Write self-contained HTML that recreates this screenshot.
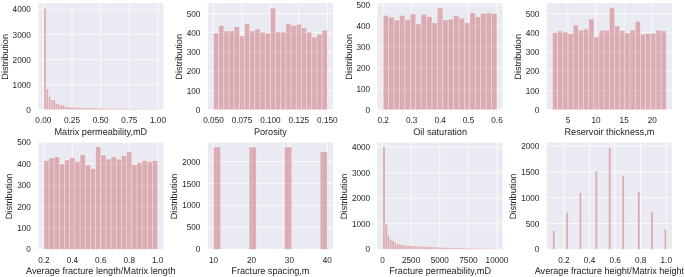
<!DOCTYPE html>
<html><head><meta charset="utf-8"><style>
html,body{margin:0;padding:0;background:#fff;width:685px;height:277px;overflow:hidden}
svg{will-change:transform;text-rendering:geometricPrecision;display:block;font-family:"Liberation Sans",sans-serif}
</style></head><body>
<svg width="685" height="277" viewBox="0 0 685 277">
<rect x="0" y="0" width="685" height="277" fill="#ffffff"/>
<g>
<rect x="38.20" y="3.10" width="125.20" height="106.60" fill="#EAEAF2"/>
<line x1="43.30" y1="3.10" x2="43.30" y2="109.70" stroke="#fff" stroke-width="0.75"/>
<line x1="71.97" y1="3.10" x2="71.97" y2="109.70" stroke="#fff" stroke-width="0.75"/>
<line x1="100.65" y1="3.10" x2="100.65" y2="109.70" stroke="#fff" stroke-width="0.75"/>
<line x1="129.32" y1="3.10" x2="129.32" y2="109.70" stroke="#fff" stroke-width="0.75"/>
<line x1="158.00" y1="3.10" x2="158.00" y2="109.70" stroke="#fff" stroke-width="0.75"/>
<line x1="38.20" y1="109.70" x2="163.40" y2="109.70" stroke="#fff" stroke-width="0.75"/>
<line x1="38.20" y1="84.62" x2="163.40" y2="84.62" stroke="#fff" stroke-width="0.75"/>
<line x1="38.20" y1="59.54" x2="163.40" y2="59.54" stroke="#fff" stroke-width="0.75"/>
<line x1="38.20" y1="34.45" x2="163.40" y2="34.45" stroke="#fff" stroke-width="0.75"/>
<line x1="38.20" y1="9.37" x2="163.40" y2="9.37" stroke="#fff" stroke-width="0.75"/>
<rect x="43.90" y="8.07" width="2.28" height="101.63" fill="#C44E52" fill-opacity="0.4" stroke="#fff" stroke-opacity="0.4" stroke-width="0.75"/>
<rect x="46.18" y="88.96" width="2.28" height="20.74" fill="#C44E52" fill-opacity="0.4" stroke="#fff" stroke-opacity="0.4" stroke-width="0.75"/>
<rect x="48.45" y="96.56" width="2.28" height="13.14" fill="#C44E52" fill-opacity="0.4" stroke="#fff" stroke-opacity="0.4" stroke-width="0.75"/>
<rect x="50.73" y="99.92" width="2.28" height="9.78" fill="#C44E52" fill-opacity="0.4" stroke="#fff" stroke-opacity="0.4" stroke-width="0.75"/>
<rect x="53.00" y="99.92" width="2.28" height="9.78" fill="#C44E52" fill-opacity="0.4" stroke="#fff" stroke-opacity="0.4" stroke-width="0.75"/>
<rect x="55.28" y="103.68" width="2.28" height="6.02" fill="#C44E52" fill-opacity="0.4" stroke="#fff" stroke-opacity="0.4" stroke-width="0.75"/>
<rect x="57.56" y="104.18" width="2.28" height="5.52" fill="#C44E52" fill-opacity="0.4" stroke="#fff" stroke-opacity="0.4" stroke-width="0.75"/>
<rect x="59.83" y="105.06" width="2.28" height="4.64" fill="#C44E52" fill-opacity="0.4" stroke="#fff" stroke-opacity="0.4" stroke-width="0.75"/>
<rect x="62.11" y="105.39" width="2.28" height="4.31" fill="#C44E52" fill-opacity="0.4" stroke="#fff" stroke-opacity="0.4" stroke-width="0.75"/>
<rect x="64.38" y="106.31" width="2.28" height="3.39" fill="#C44E52" fill-opacity="0.4" stroke="#fff" stroke-opacity="0.4" stroke-width="0.75"/>
<rect x="66.66" y="106.89" width="2.28" height="2.81" fill="#C44E52" fill-opacity="0.4" stroke="#fff" stroke-opacity="0.4" stroke-width="0.75"/>
<rect x="68.94" y="107.00" width="2.28" height="2.70" fill="#C44E52" fill-opacity="0.4" stroke="#fff" stroke-opacity="0.4" stroke-width="0.75"/>
<rect x="71.21" y="107.11" width="2.28" height="2.59" fill="#C44E52" fill-opacity="0.4" stroke="#fff" stroke-opacity="0.4" stroke-width="0.75"/>
<rect x="73.49" y="107.21" width="2.28" height="2.49" fill="#C44E52" fill-opacity="0.4" stroke="#fff" stroke-opacity="0.4" stroke-width="0.75"/>
<rect x="75.76" y="107.31" width="2.28" height="2.39" fill="#C44E52" fill-opacity="0.4" stroke="#fff" stroke-opacity="0.4" stroke-width="0.75"/>
<rect x="78.04" y="107.40" width="2.28" height="2.30" fill="#C44E52" fill-opacity="0.4" stroke="#fff" stroke-opacity="0.4" stroke-width="0.75"/>
<rect x="80.32" y="107.49" width="2.28" height="2.21" fill="#C44E52" fill-opacity="0.4" stroke="#fff" stroke-opacity="0.4" stroke-width="0.75"/>
<rect x="82.59" y="107.58" width="2.28" height="2.12" fill="#C44E52" fill-opacity="0.4" stroke="#fff" stroke-opacity="0.4" stroke-width="0.75"/>
<rect x="84.87" y="107.66" width="2.28" height="2.04" fill="#C44E52" fill-opacity="0.4" stroke="#fff" stroke-opacity="0.4" stroke-width="0.75"/>
<rect x="87.14" y="107.74" width="2.28" height="1.96" fill="#C44E52" fill-opacity="0.4" stroke="#fff" stroke-opacity="0.4" stroke-width="0.75"/>
<rect x="89.42" y="107.82" width="2.28" height="1.88" fill="#C44E52" fill-opacity="0.4" stroke="#fff" stroke-opacity="0.4" stroke-width="0.75"/>
<rect x="91.70" y="107.89" width="2.28" height="1.81" fill="#C44E52" fill-opacity="0.4" stroke="#fff" stroke-opacity="0.4" stroke-width="0.75"/>
<rect x="93.97" y="107.96" width="2.28" height="1.74" fill="#C44E52" fill-opacity="0.4" stroke="#fff" stroke-opacity="0.4" stroke-width="0.75"/>
<rect x="96.25" y="108.03" width="2.28" height="1.67" fill="#C44E52" fill-opacity="0.4" stroke="#fff" stroke-opacity="0.4" stroke-width="0.75"/>
<rect x="98.52" y="108.10" width="2.28" height="1.60" fill="#C44E52" fill-opacity="0.4" stroke="#fff" stroke-opacity="0.4" stroke-width="0.75"/>
<rect x="100.80" y="108.16" width="2.28" height="1.54" fill="#C44E52" fill-opacity="0.4" stroke="#fff" stroke-opacity="0.4" stroke-width="0.75"/>
<rect x="103.08" y="108.22" width="2.28" height="1.48" fill="#C44E52" fill-opacity="0.4" stroke="#fff" stroke-opacity="0.4" stroke-width="0.75"/>
<rect x="105.35" y="108.28" width="2.28" height="1.42" fill="#C44E52" fill-opacity="0.4" stroke="#fff" stroke-opacity="0.4" stroke-width="0.75"/>
<rect x="107.63" y="108.33" width="2.28" height="1.37" fill="#C44E52" fill-opacity="0.4" stroke="#fff" stroke-opacity="0.4" stroke-width="0.75"/>
<rect x="109.90" y="108.39" width="2.28" height="1.31" fill="#C44E52" fill-opacity="0.4" stroke="#fff" stroke-opacity="0.4" stroke-width="0.75"/>
<rect x="112.18" y="108.44" width="2.28" height="1.26" fill="#C44E52" fill-opacity="0.4" stroke="#fff" stroke-opacity="0.4" stroke-width="0.75"/>
<rect x="114.46" y="108.49" width="2.28" height="1.21" fill="#C44E52" fill-opacity="0.4" stroke="#fff" stroke-opacity="0.4" stroke-width="0.75"/>
<rect x="116.73" y="108.53" width="2.28" height="1.17" fill="#C44E52" fill-opacity="0.4" stroke="#fff" stroke-opacity="0.4" stroke-width="0.75"/>
<rect x="119.01" y="108.58" width="2.28" height="1.12" fill="#C44E52" fill-opacity="0.4" stroke="#fff" stroke-opacity="0.4" stroke-width="0.75"/>
<rect x="121.28" y="108.62" width="2.28" height="1.08" fill="#C44E52" fill-opacity="0.4" stroke="#fff" stroke-opacity="0.4" stroke-width="0.75"/>
<rect x="123.56" y="108.67" width="2.28" height="1.03" fill="#C44E52" fill-opacity="0.4" stroke="#fff" stroke-opacity="0.4" stroke-width="0.75"/>
<rect x="125.84" y="108.71" width="2.28" height="0.99" fill="#C44E52" fill-opacity="0.4" stroke="#fff" stroke-opacity="0.4" stroke-width="0.75"/>
<rect x="128.11" y="108.75" width="2.28" height="0.95" fill="#C44E52" fill-opacity="0.4" stroke="#fff" stroke-opacity="0.4" stroke-width="0.75"/>
<rect x="130.39" y="108.78" width="2.28" height="0.92" fill="#C44E52" fill-opacity="0.4" stroke="#fff" stroke-opacity="0.4" stroke-width="0.75"/>
<rect x="132.66" y="108.82" width="2.28" height="0.88" fill="#C44E52" fill-opacity="0.4" stroke="#fff" stroke-opacity="0.4" stroke-width="0.75"/>
<rect x="134.94" y="108.85" width="2.28" height="0.85" fill="#C44E52" fill-opacity="0.4" stroke="#fff" stroke-opacity="0.4" stroke-width="0.75"/>
<rect x="137.22" y="108.89" width="2.28" height="0.81" fill="#C44E52" fill-opacity="0.4" stroke="#fff" stroke-opacity="0.4" stroke-width="0.75"/>
<rect x="139.49" y="108.92" width="2.28" height="0.78" fill="#C44E52" fill-opacity="0.4" stroke="#fff" stroke-opacity="0.4" stroke-width="0.75"/>
<rect x="141.77" y="108.95" width="2.28" height="0.75" fill="#C44E52" fill-opacity="0.4" stroke="#fff" stroke-opacity="0.4" stroke-width="0.75"/>
<rect x="144.04" y="108.98" width="2.28" height="0.72" fill="#C44E52" fill-opacity="0.4" stroke="#fff" stroke-opacity="0.4" stroke-width="0.75"/>
<rect x="146.32" y="109.01" width="2.28" height="0.69" fill="#C44E52" fill-opacity="0.4" stroke="#fff" stroke-opacity="0.4" stroke-width="0.75"/>
<rect x="148.60" y="109.03" width="2.28" height="0.67" fill="#C44E52" fill-opacity="0.4" stroke="#fff" stroke-opacity="0.4" stroke-width="0.75"/>
<rect x="150.87" y="109.06" width="2.28" height="0.64" fill="#C44E52" fill-opacity="0.4" stroke="#fff" stroke-opacity="0.4" stroke-width="0.75"/>
<rect x="153.15" y="109.09" width="2.28" height="0.61" fill="#C44E52" fill-opacity="0.4" stroke="#fff" stroke-opacity="0.4" stroke-width="0.75"/>
<rect x="155.42" y="109.11" width="2.28" height="0.59" fill="#C44E52" fill-opacity="0.4" stroke="#fff" stroke-opacity="0.4" stroke-width="0.75"/>
<text transform="translate(43.30,122.90) scale(1,1.06)" text-anchor="middle" font-size="8.2" fill="#262626">0.00</text>
<text transform="translate(71.97,122.90) scale(1,1.06)" text-anchor="middle" font-size="8.2" fill="#262626">0.25</text>
<text transform="translate(100.65,122.90) scale(1,1.06)" text-anchor="middle" font-size="8.2" fill="#262626">0.50</text>
<text transform="translate(129.32,122.90) scale(1,1.06)" text-anchor="middle" font-size="8.2" fill="#262626">0.75</text>
<text transform="translate(158.00,122.90) scale(1,1.06)" text-anchor="middle" font-size="8.2" fill="#262626">1.00</text>
<text transform="translate(30.80,112.80) scale(1,1.06)" text-anchor="end" font-size="8.2" fill="#262626">0</text>
<text transform="translate(30.80,87.72) scale(1,1.06)" text-anchor="end" font-size="8.2" fill="#262626">1000</text>
<text transform="translate(30.80,62.64) scale(1,1.06)" text-anchor="end" font-size="8.2" fill="#262626">2000</text>
<text transform="translate(30.80,37.55) scale(1,1.06)" text-anchor="end" font-size="8.2" fill="#262626">3000</text>
<text transform="translate(30.80,12.47) scale(1,1.06)" text-anchor="end" font-size="8.2" fill="#262626">4000</text>
<text transform="translate(100.80,134.70) scale(1,1.06)" text-anchor="middle" font-size="9.15" fill="#262626">Matrix permeability,mD</text>
<text transform="translate(7.66,56.80) rotate(-90)" x="0" y="0" text-anchor="middle" font-size="9.15" fill="#262626">Distribution</text>
</g>
<g>
<rect x="207.80" y="3.10" width="125.20" height="106.60" fill="#EAEAF2"/>
<line x1="213.50" y1="3.10" x2="213.50" y2="109.70" stroke="#fff" stroke-width="0.75"/>
<line x1="241.95" y1="3.10" x2="241.95" y2="109.70" stroke="#fff" stroke-width="0.75"/>
<line x1="270.40" y1="3.10" x2="270.40" y2="109.70" stroke="#fff" stroke-width="0.75"/>
<line x1="298.85" y1="3.10" x2="298.85" y2="109.70" stroke="#fff" stroke-width="0.75"/>
<line x1="327.30" y1="3.10" x2="327.30" y2="109.70" stroke="#fff" stroke-width="0.75"/>
<line x1="207.80" y1="109.70" x2="333.00" y2="109.70" stroke="#fff" stroke-width="0.75"/>
<line x1="207.80" y1="90.46" x2="333.00" y2="90.46" stroke="#fff" stroke-width="0.75"/>
<line x1="207.80" y1="71.22" x2="333.00" y2="71.22" stroke="#fff" stroke-width="0.75"/>
<line x1="207.80" y1="51.97" x2="333.00" y2="51.97" stroke="#fff" stroke-width="0.75"/>
<line x1="207.80" y1="32.73" x2="333.00" y2="32.73" stroke="#fff" stroke-width="0.75"/>
<line x1="207.80" y1="13.49" x2="333.00" y2="13.49" stroke="#fff" stroke-width="0.75"/>
<rect x="213.50" y="33.12" width="5.17" height="76.58" fill="#C44E52" fill-opacity="0.4" stroke="#fff" stroke-opacity="0.4" stroke-width="0.75"/>
<rect x="218.67" y="25.61" width="5.17" height="84.09" fill="#C44E52" fill-opacity="0.4" stroke="#fff" stroke-opacity="0.4" stroke-width="0.75"/>
<rect x="223.85" y="31.00" width="5.17" height="78.70" fill="#C44E52" fill-opacity="0.4" stroke="#fff" stroke-opacity="0.4" stroke-width="0.75"/>
<rect x="229.02" y="31.00" width="5.17" height="78.70" fill="#C44E52" fill-opacity="0.4" stroke="#fff" stroke-opacity="0.4" stroke-width="0.75"/>
<rect x="234.19" y="26.77" width="5.17" height="82.93" fill="#C44E52" fill-opacity="0.4" stroke="#fff" stroke-opacity="0.4" stroke-width="0.75"/>
<rect x="239.36" y="36.00" width="5.17" height="73.70" fill="#C44E52" fill-opacity="0.4" stroke="#fff" stroke-opacity="0.4" stroke-width="0.75"/>
<rect x="244.54" y="23.88" width="5.17" height="85.82" fill="#C44E52" fill-opacity="0.4" stroke="#fff" stroke-opacity="0.4" stroke-width="0.75"/>
<rect x="249.71" y="31.00" width="5.17" height="78.70" fill="#C44E52" fill-opacity="0.4" stroke="#fff" stroke-opacity="0.4" stroke-width="0.75"/>
<rect x="254.88" y="29.08" width="5.17" height="80.62" fill="#C44E52" fill-opacity="0.4" stroke="#fff" stroke-opacity="0.4" stroke-width="0.75"/>
<rect x="260.05" y="32.16" width="5.17" height="77.54" fill="#C44E52" fill-opacity="0.4" stroke="#fff" stroke-opacity="0.4" stroke-width="0.75"/>
<rect x="265.23" y="33.31" width="5.17" height="76.39" fill="#C44E52" fill-opacity="0.4" stroke="#fff" stroke-opacity="0.4" stroke-width="0.75"/>
<rect x="270.40" y="8.10" width="5.17" height="101.60" fill="#C44E52" fill-opacity="0.4" stroke="#fff" stroke-opacity="0.4" stroke-width="0.75"/>
<rect x="275.57" y="31.96" width="5.17" height="77.74" fill="#C44E52" fill-opacity="0.4" stroke="#fff" stroke-opacity="0.4" stroke-width="0.75"/>
<rect x="280.75" y="32.16" width="5.17" height="77.54" fill="#C44E52" fill-opacity="0.4" stroke="#fff" stroke-opacity="0.4" stroke-width="0.75"/>
<rect x="285.92" y="23.88" width="5.17" height="85.82" fill="#C44E52" fill-opacity="0.4" stroke="#fff" stroke-opacity="0.4" stroke-width="0.75"/>
<rect x="291.09" y="25.42" width="5.17" height="84.28" fill="#C44E52" fill-opacity="0.4" stroke="#fff" stroke-opacity="0.4" stroke-width="0.75"/>
<rect x="296.26" y="24.27" width="5.17" height="85.43" fill="#C44E52" fill-opacity="0.4" stroke="#fff" stroke-opacity="0.4" stroke-width="0.75"/>
<rect x="301.44" y="27.92" width="5.17" height="81.78" fill="#C44E52" fill-opacity="0.4" stroke="#fff" stroke-opacity="0.4" stroke-width="0.75"/>
<rect x="306.61" y="32.16" width="5.17" height="77.54" fill="#C44E52" fill-opacity="0.4" stroke="#fff" stroke-opacity="0.4" stroke-width="0.75"/>
<rect x="311.78" y="37.16" width="5.17" height="72.54" fill="#C44E52" fill-opacity="0.4" stroke="#fff" stroke-opacity="0.4" stroke-width="0.75"/>
<rect x="316.95" y="34.27" width="5.17" height="75.43" fill="#C44E52" fill-opacity="0.4" stroke="#fff" stroke-opacity="0.4" stroke-width="0.75"/>
<rect x="322.13" y="30.23" width="5.17" height="79.47" fill="#C44E52" fill-opacity="0.4" stroke="#fff" stroke-opacity="0.4" stroke-width="0.75"/>
<text transform="translate(213.50,122.90) scale(1,1.06)" text-anchor="middle" font-size="8.2" fill="#262626">0.050</text>
<text transform="translate(241.95,122.90) scale(1,1.06)" text-anchor="middle" font-size="8.2" fill="#262626">0.075</text>
<text transform="translate(270.40,122.90) scale(1,1.06)" text-anchor="middle" font-size="8.2" fill="#262626">0.100</text>
<text transform="translate(298.85,122.90) scale(1,1.06)" text-anchor="middle" font-size="8.2" fill="#262626">0.125</text>
<text transform="translate(327.30,122.90) scale(1,1.06)" text-anchor="middle" font-size="8.2" fill="#262626">0.150</text>
<text transform="translate(200.40,112.80) scale(1,1.06)" text-anchor="end" font-size="8.2" fill="#262626">0</text>
<text transform="translate(200.40,93.56) scale(1,1.06)" text-anchor="end" font-size="8.2" fill="#262626">100</text>
<text transform="translate(200.40,74.32) scale(1,1.06)" text-anchor="end" font-size="8.2" fill="#262626">200</text>
<text transform="translate(200.40,55.07) scale(1,1.06)" text-anchor="end" font-size="8.2" fill="#262626">300</text>
<text transform="translate(200.40,35.83) scale(1,1.06)" text-anchor="end" font-size="8.2" fill="#262626">400</text>
<text transform="translate(200.40,16.59) scale(1,1.06)" text-anchor="end" font-size="8.2" fill="#262626">500</text>
<text transform="translate(270.40,134.70) scale(1,1.06)" text-anchor="middle" font-size="9.15" fill="#262626">Porosity</text>
<text transform="translate(181.82,56.80) rotate(-90)" x="0" y="0" text-anchor="middle" font-size="9.15" fill="#262626">Distribution</text>
</g>
<g>
<rect x="377.50" y="3.10" width="125.20" height="106.60" fill="#EAEAF2"/>
<line x1="383.20" y1="3.10" x2="383.20" y2="109.70" stroke="#fff" stroke-width="0.75"/>
<line x1="411.65" y1="3.10" x2="411.65" y2="109.70" stroke="#fff" stroke-width="0.75"/>
<line x1="440.10" y1="3.10" x2="440.10" y2="109.70" stroke="#fff" stroke-width="0.75"/>
<line x1="468.55" y1="3.10" x2="468.55" y2="109.70" stroke="#fff" stroke-width="0.75"/>
<line x1="497.00" y1="3.10" x2="497.00" y2="109.70" stroke="#fff" stroke-width="0.75"/>
<line x1="377.50" y1="109.70" x2="502.70" y2="109.70" stroke="#fff" stroke-width="0.75"/>
<line x1="377.50" y1="88.80" x2="502.70" y2="88.80" stroke="#fff" stroke-width="0.75"/>
<line x1="377.50" y1="67.90" x2="502.70" y2="67.90" stroke="#fff" stroke-width="0.75"/>
<line x1="377.50" y1="46.99" x2="502.70" y2="46.99" stroke="#fff" stroke-width="0.75"/>
<line x1="377.50" y1="26.09" x2="502.70" y2="26.09" stroke="#fff" stroke-width="0.75"/>
<line x1="377.50" y1="5.19" x2="502.70" y2="5.19" stroke="#fff" stroke-width="0.75"/>
<rect x="383.20" y="15.43" width="5.42" height="94.27" fill="#C44E52" fill-opacity="0.4" stroke="#fff" stroke-opacity="0.4" stroke-width="0.75"/>
<rect x="388.62" y="17.10" width="5.42" height="92.60" fill="#C44E52" fill-opacity="0.4" stroke="#fff" stroke-opacity="0.4" stroke-width="0.75"/>
<rect x="394.04" y="20.03" width="5.42" height="89.67" fill="#C44E52" fill-opacity="0.4" stroke="#fff" stroke-opacity="0.4" stroke-width="0.75"/>
<rect x="399.46" y="15.43" width="5.42" height="94.27" fill="#C44E52" fill-opacity="0.4" stroke="#fff" stroke-opacity="0.4" stroke-width="0.75"/>
<rect x="404.88" y="19.61" width="5.42" height="90.09" fill="#C44E52" fill-opacity="0.4" stroke="#fff" stroke-opacity="0.4" stroke-width="0.75"/>
<rect x="410.30" y="13.97" width="5.42" height="95.73" fill="#C44E52" fill-opacity="0.4" stroke="#fff" stroke-opacity="0.4" stroke-width="0.75"/>
<rect x="415.71" y="23.79" width="5.42" height="85.91" fill="#C44E52" fill-opacity="0.4" stroke="#fff" stroke-opacity="0.4" stroke-width="0.75"/>
<rect x="421.13" y="14.60" width="5.42" height="95.10" fill="#C44E52" fill-opacity="0.4" stroke="#fff" stroke-opacity="0.4" stroke-width="0.75"/>
<rect x="426.55" y="16.69" width="5.42" height="93.01" fill="#C44E52" fill-opacity="0.4" stroke="#fff" stroke-opacity="0.4" stroke-width="0.75"/>
<rect x="431.97" y="22.96" width="5.42" height="86.74" fill="#C44E52" fill-opacity="0.4" stroke="#fff" stroke-opacity="0.4" stroke-width="0.75"/>
<rect x="437.39" y="7.91" width="5.42" height="101.79" fill="#C44E52" fill-opacity="0.4" stroke="#fff" stroke-opacity="0.4" stroke-width="0.75"/>
<rect x="442.81" y="20.03" width="5.42" height="89.67" fill="#C44E52" fill-opacity="0.4" stroke="#fff" stroke-opacity="0.4" stroke-width="0.75"/>
<rect x="448.23" y="19.19" width="5.42" height="90.51" fill="#C44E52" fill-opacity="0.4" stroke="#fff" stroke-opacity="0.4" stroke-width="0.75"/>
<rect x="453.65" y="15.43" width="5.42" height="94.27" fill="#C44E52" fill-opacity="0.4" stroke="#fff" stroke-opacity="0.4" stroke-width="0.75"/>
<rect x="459.07" y="18.15" width="5.42" height="91.55" fill="#C44E52" fill-opacity="0.4" stroke="#fff" stroke-opacity="0.4" stroke-width="0.75"/>
<rect x="464.49" y="22.75" width="5.42" height="86.95" fill="#C44E52" fill-opacity="0.4" stroke="#fff" stroke-opacity="0.4" stroke-width="0.75"/>
<rect x="469.90" y="12.92" width="5.42" height="96.78" fill="#C44E52" fill-opacity="0.4" stroke="#fff" stroke-opacity="0.4" stroke-width="0.75"/>
<rect x="475.32" y="16.69" width="5.42" height="93.01" fill="#C44E52" fill-opacity="0.4" stroke="#fff" stroke-opacity="0.4" stroke-width="0.75"/>
<rect x="480.74" y="13.55" width="5.42" height="96.15" fill="#C44E52" fill-opacity="0.4" stroke="#fff" stroke-opacity="0.4" stroke-width="0.75"/>
<rect x="486.16" y="12.92" width="5.42" height="96.78" fill="#C44E52" fill-opacity="0.4" stroke="#fff" stroke-opacity="0.4" stroke-width="0.75"/>
<rect x="491.58" y="13.55" width="5.42" height="96.15" fill="#C44E52" fill-opacity="0.4" stroke="#fff" stroke-opacity="0.4" stroke-width="0.75"/>
<text transform="translate(383.20,122.90) scale(1,1.06)" text-anchor="middle" font-size="8.2" fill="#262626">0.2</text>
<text transform="translate(411.65,122.90) scale(1,1.06)" text-anchor="middle" font-size="8.2" fill="#262626">0.3</text>
<text transform="translate(440.10,122.90) scale(1,1.06)" text-anchor="middle" font-size="8.2" fill="#262626">0.4</text>
<text transform="translate(468.55,122.90) scale(1,1.06)" text-anchor="middle" font-size="8.2" fill="#262626">0.5</text>
<text transform="translate(497.00,122.90) scale(1,1.06)" text-anchor="middle" font-size="8.2" fill="#262626">0.6</text>
<text transform="translate(370.10,112.80) scale(1,1.06)" text-anchor="end" font-size="8.2" fill="#262626">0</text>
<text transform="translate(370.10,91.90) scale(1,1.06)" text-anchor="end" font-size="8.2" fill="#262626">100</text>
<text transform="translate(370.10,71.00) scale(1,1.06)" text-anchor="end" font-size="8.2" fill="#262626">200</text>
<text transform="translate(370.10,50.09) scale(1,1.06)" text-anchor="end" font-size="8.2" fill="#262626">300</text>
<text transform="translate(370.10,29.19) scale(1,1.06)" text-anchor="end" font-size="8.2" fill="#262626">400</text>
<text transform="translate(370.10,8.29) scale(1,1.06)" text-anchor="end" font-size="8.2" fill="#262626">500</text>
<text transform="translate(440.10,134.70) scale(1,1.06)" text-anchor="middle" font-size="9.15" fill="#262626">Oil saturation</text>
<text transform="translate(351.52,56.80) rotate(-90)" x="0" y="0" text-anchor="middle" font-size="9.15" fill="#262626">Distribution</text>
</g>
<g>
<rect x="546.80" y="3.10" width="125.20" height="106.60" fill="#EAEAF2"/>
<line x1="567.91" y1="3.10" x2="567.91" y2="109.70" stroke="#fff" stroke-width="0.75"/>
<line x1="596.04" y1="3.10" x2="596.04" y2="109.70" stroke="#fff" stroke-width="0.75"/>
<line x1="624.17" y1="3.10" x2="624.17" y2="109.70" stroke="#fff" stroke-width="0.75"/>
<line x1="652.29" y1="3.10" x2="652.29" y2="109.70" stroke="#fff" stroke-width="0.75"/>
<line x1="546.80" y1="109.70" x2="672.00" y2="109.70" stroke="#fff" stroke-width="0.75"/>
<line x1="546.80" y1="90.46" x2="672.00" y2="90.46" stroke="#fff" stroke-width="0.75"/>
<line x1="546.80" y1="71.22" x2="672.00" y2="71.22" stroke="#fff" stroke-width="0.75"/>
<line x1="546.80" y1="51.97" x2="672.00" y2="51.97" stroke="#fff" stroke-width="0.75"/>
<line x1="546.80" y1="32.73" x2="672.00" y2="32.73" stroke="#fff" stroke-width="0.75"/>
<line x1="546.80" y1="13.49" x2="672.00" y2="13.49" stroke="#fff" stroke-width="0.75"/>
<rect x="552.50" y="32.73" width="5.17" height="76.97" fill="#C44E52" fill-opacity="0.4" stroke="#fff" stroke-opacity="0.4" stroke-width="0.75"/>
<rect x="557.67" y="31.00" width="5.17" height="78.70" fill="#C44E52" fill-opacity="0.4" stroke="#fff" stroke-opacity="0.4" stroke-width="0.75"/>
<rect x="562.85" y="32.16" width="5.17" height="77.54" fill="#C44E52" fill-opacity="0.4" stroke="#fff" stroke-opacity="0.4" stroke-width="0.75"/>
<rect x="568.02" y="33.89" width="5.17" height="75.81" fill="#C44E52" fill-opacity="0.4" stroke="#fff" stroke-opacity="0.4" stroke-width="0.75"/>
<rect x="573.19" y="25.04" width="5.17" height="84.66" fill="#C44E52" fill-opacity="0.4" stroke="#fff" stroke-opacity="0.4" stroke-width="0.75"/>
<rect x="578.36" y="30.23" width="5.17" height="79.47" fill="#C44E52" fill-opacity="0.4" stroke="#fff" stroke-opacity="0.4" stroke-width="0.75"/>
<rect x="583.54" y="29.27" width="5.17" height="80.43" fill="#C44E52" fill-opacity="0.4" stroke="#fff" stroke-opacity="0.4" stroke-width="0.75"/>
<rect x="588.71" y="19.07" width="5.17" height="90.63" fill="#C44E52" fill-opacity="0.4" stroke="#fff" stroke-opacity="0.4" stroke-width="0.75"/>
<rect x="593.88" y="36.97" width="5.17" height="72.73" fill="#C44E52" fill-opacity="0.4" stroke="#fff" stroke-opacity="0.4" stroke-width="0.75"/>
<rect x="599.05" y="30.62" width="5.17" height="79.08" fill="#C44E52" fill-opacity="0.4" stroke="#fff" stroke-opacity="0.4" stroke-width="0.75"/>
<rect x="604.23" y="30.23" width="5.17" height="79.47" fill="#C44E52" fill-opacity="0.4" stroke="#fff" stroke-opacity="0.4" stroke-width="0.75"/>
<rect x="609.40" y="7.72" width="5.17" height="101.98" fill="#C44E52" fill-opacity="0.4" stroke="#fff" stroke-opacity="0.4" stroke-width="0.75"/>
<rect x="614.57" y="26.00" width="5.17" height="83.70" fill="#C44E52" fill-opacity="0.4" stroke="#fff" stroke-opacity="0.4" stroke-width="0.75"/>
<rect x="619.75" y="30.62" width="5.17" height="79.08" fill="#C44E52" fill-opacity="0.4" stroke="#fff" stroke-opacity="0.4" stroke-width="0.75"/>
<rect x="624.92" y="32.92" width="5.17" height="76.78" fill="#C44E52" fill-opacity="0.4" stroke="#fff" stroke-opacity="0.4" stroke-width="0.75"/>
<rect x="630.09" y="30.04" width="5.17" height="79.66" fill="#C44E52" fill-opacity="0.4" stroke="#fff" stroke-opacity="0.4" stroke-width="0.75"/>
<rect x="635.26" y="21.38" width="5.17" height="88.32" fill="#C44E52" fill-opacity="0.4" stroke="#fff" stroke-opacity="0.4" stroke-width="0.75"/>
<rect x="640.44" y="34.27" width="5.17" height="75.43" fill="#C44E52" fill-opacity="0.4" stroke="#fff" stroke-opacity="0.4" stroke-width="0.75"/>
<rect x="645.61" y="33.69" width="5.17" height="76.01" fill="#C44E52" fill-opacity="0.4" stroke="#fff" stroke-opacity="0.4" stroke-width="0.75"/>
<rect x="650.78" y="33.12" width="5.17" height="76.58" fill="#C44E52" fill-opacity="0.4" stroke="#fff" stroke-opacity="0.4" stroke-width="0.75"/>
<rect x="655.95" y="30.23" width="5.17" height="79.47" fill="#C44E52" fill-opacity="0.4" stroke="#fff" stroke-opacity="0.4" stroke-width="0.75"/>
<rect x="661.13" y="31.00" width="5.17" height="78.70" fill="#C44E52" fill-opacity="0.4" stroke="#fff" stroke-opacity="0.4" stroke-width="0.75"/>
<text transform="translate(567.91,122.90) scale(1,1.06)" text-anchor="middle" font-size="8.2" fill="#262626">5</text>
<text transform="translate(596.04,122.90) scale(1,1.06)" text-anchor="middle" font-size="8.2" fill="#262626">10</text>
<text transform="translate(624.17,122.90) scale(1,1.06)" text-anchor="middle" font-size="8.2" fill="#262626">15</text>
<text transform="translate(652.29,122.90) scale(1,1.06)" text-anchor="middle" font-size="8.2" fill="#262626">20</text>
<text transform="translate(539.40,112.80) scale(1,1.06)" text-anchor="end" font-size="8.2" fill="#262626">0</text>
<text transform="translate(539.40,93.56) scale(1,1.06)" text-anchor="end" font-size="8.2" fill="#262626">100</text>
<text transform="translate(539.40,74.32) scale(1,1.06)" text-anchor="end" font-size="8.2" fill="#262626">200</text>
<text transform="translate(539.40,55.07) scale(1,1.06)" text-anchor="end" font-size="8.2" fill="#262626">300</text>
<text transform="translate(539.40,35.83) scale(1,1.06)" text-anchor="end" font-size="8.2" fill="#262626">400</text>
<text transform="translate(539.40,16.59) scale(1,1.06)" text-anchor="end" font-size="8.2" fill="#262626">500</text>
<text transform="translate(609.40,134.70) scale(1,1.06)" text-anchor="middle" font-size="9.15" fill="#262626">Reservoir thickness,m</text>
<text transform="translate(520.82,56.80) rotate(-90)" x="0" y="0" text-anchor="middle" font-size="9.15" fill="#262626">Distribution</text>
</g>
<g>
<rect x="38.20" y="142.70" width="125.20" height="106.60" fill="#EAEAF2"/>
<line x1="43.90" y1="142.70" x2="43.90" y2="249.30" stroke="#fff" stroke-width="0.75"/>
<line x1="72.35" y1="142.70" x2="72.35" y2="249.30" stroke="#fff" stroke-width="0.75"/>
<line x1="100.80" y1="142.70" x2="100.80" y2="249.30" stroke="#fff" stroke-width="0.75"/>
<line x1="129.25" y1="142.70" x2="129.25" y2="249.30" stroke="#fff" stroke-width="0.75"/>
<line x1="157.70" y1="142.70" x2="157.70" y2="249.30" stroke="#fff" stroke-width="0.75"/>
<line x1="38.20" y1="249.30" x2="163.40" y2="249.30" stroke="#fff" stroke-width="0.75"/>
<line x1="38.20" y1="227.92" x2="163.40" y2="227.92" stroke="#fff" stroke-width="0.75"/>
<line x1="38.20" y1="206.53" x2="163.40" y2="206.53" stroke="#fff" stroke-width="0.75"/>
<line x1="38.20" y1="185.15" x2="163.40" y2="185.15" stroke="#fff" stroke-width="0.75"/>
<line x1="38.20" y1="163.76" x2="163.40" y2="163.76" stroke="#fff" stroke-width="0.75"/>
<rect x="43.90" y="160.56" width="5.17" height="88.74" fill="#C44E52" fill-opacity="0.4" stroke="#fff" stroke-opacity="0.4" stroke-width="0.75"/>
<rect x="49.07" y="157.99" width="5.17" height="91.31" fill="#C44E52" fill-opacity="0.4" stroke="#fff" stroke-opacity="0.4" stroke-width="0.75"/>
<rect x="54.25" y="156.92" width="5.17" height="92.38" fill="#C44E52" fill-opacity="0.4" stroke="#fff" stroke-opacity="0.4" stroke-width="0.75"/>
<rect x="59.42" y="163.98" width="5.17" height="85.32" fill="#C44E52" fill-opacity="0.4" stroke="#fff" stroke-opacity="0.4" stroke-width="0.75"/>
<rect x="64.59" y="160.13" width="5.17" height="89.17" fill="#C44E52" fill-opacity="0.4" stroke="#fff" stroke-opacity="0.4" stroke-width="0.75"/>
<rect x="69.76" y="157.78" width="5.17" height="91.52" fill="#C44E52" fill-opacity="0.4" stroke="#fff" stroke-opacity="0.4" stroke-width="0.75"/>
<rect x="74.94" y="161.84" width="5.17" height="87.46" fill="#C44E52" fill-opacity="0.4" stroke="#fff" stroke-opacity="0.4" stroke-width="0.75"/>
<rect x="80.11" y="154.78" width="5.17" height="94.52" fill="#C44E52" fill-opacity="0.4" stroke="#fff" stroke-opacity="0.4" stroke-width="0.75"/>
<rect x="85.28" y="164.83" width="5.17" height="84.47" fill="#C44E52" fill-opacity="0.4" stroke="#fff" stroke-opacity="0.4" stroke-width="0.75"/>
<rect x="90.45" y="168.68" width="5.17" height="80.62" fill="#C44E52" fill-opacity="0.4" stroke="#fff" stroke-opacity="0.4" stroke-width="0.75"/>
<rect x="95.63" y="146.87" width="5.17" height="102.43" fill="#C44E52" fill-opacity="0.4" stroke="#fff" stroke-opacity="0.4" stroke-width="0.75"/>
<rect x="100.80" y="155.00" width="5.17" height="94.30" fill="#C44E52" fill-opacity="0.4" stroke="#fff" stroke-opacity="0.4" stroke-width="0.75"/>
<rect x="105.97" y="159.06" width="5.17" height="90.24" fill="#C44E52" fill-opacity="0.4" stroke="#fff" stroke-opacity="0.4" stroke-width="0.75"/>
<rect x="111.15" y="156.92" width="5.17" height="92.38" fill="#C44E52" fill-opacity="0.4" stroke="#fff" stroke-opacity="0.4" stroke-width="0.75"/>
<rect x="116.32" y="159.27" width="5.17" height="90.03" fill="#C44E52" fill-opacity="0.4" stroke="#fff" stroke-opacity="0.4" stroke-width="0.75"/>
<rect x="121.49" y="155.85" width="5.17" height="93.45" fill="#C44E52" fill-opacity="0.4" stroke="#fff" stroke-opacity="0.4" stroke-width="0.75"/>
<rect x="126.66" y="151.57" width="5.17" height="97.73" fill="#C44E52" fill-opacity="0.4" stroke="#fff" stroke-opacity="0.4" stroke-width="0.75"/>
<rect x="131.84" y="164.83" width="5.17" height="84.47" fill="#C44E52" fill-opacity="0.4" stroke="#fff" stroke-opacity="0.4" stroke-width="0.75"/>
<rect x="137.01" y="162.69" width="5.17" height="86.61" fill="#C44E52" fill-opacity="0.4" stroke="#fff" stroke-opacity="0.4" stroke-width="0.75"/>
<rect x="142.18" y="160.77" width="5.17" height="88.53" fill="#C44E52" fill-opacity="0.4" stroke="#fff" stroke-opacity="0.4" stroke-width="0.75"/>
<rect x="147.35" y="161.84" width="5.17" height="87.46" fill="#C44E52" fill-opacity="0.4" stroke="#fff" stroke-opacity="0.4" stroke-width="0.75"/>
<rect x="152.53" y="160.77" width="5.17" height="88.53" fill="#C44E52" fill-opacity="0.4" stroke="#fff" stroke-opacity="0.4" stroke-width="0.75"/>
<text transform="translate(43.90,262.50) scale(1,1.06)" text-anchor="middle" font-size="8.2" fill="#262626">0.2</text>
<text transform="translate(72.35,262.50) scale(1,1.06)" text-anchor="middle" font-size="8.2" fill="#262626">0.4</text>
<text transform="translate(100.80,262.50) scale(1,1.06)" text-anchor="middle" font-size="8.2" fill="#262626">0.6</text>
<text transform="translate(129.25,262.50) scale(1,1.06)" text-anchor="middle" font-size="8.2" fill="#262626">0.8</text>
<text transform="translate(157.70,262.50) scale(1,1.06)" text-anchor="middle" font-size="8.2" fill="#262626">1.0</text>
<text transform="translate(30.80,252.40) scale(1,1.06)" text-anchor="end" font-size="8.2" fill="#262626">0</text>
<text transform="translate(30.80,231.02) scale(1,1.06)" text-anchor="end" font-size="8.2" fill="#262626">100</text>
<text transform="translate(30.80,209.63) scale(1,1.06)" text-anchor="end" font-size="8.2" fill="#262626">200</text>
<text transform="translate(30.80,188.25) scale(1,1.06)" text-anchor="end" font-size="8.2" fill="#262626">300</text>
<text transform="translate(30.80,166.86) scale(1,1.06)" text-anchor="end" font-size="8.2" fill="#262626">400</text>
<text transform="translate(30.80,145.48) scale(1,1.06)" text-anchor="end" font-size="8.2" fill="#262626">500</text>
<text transform="translate(100.80,274.30) scale(1,1.06)" text-anchor="middle" font-size="9.15" fill="#262626">Average fracture length/Matrix length</text>
<text transform="translate(12.22,196.40) rotate(-90)" x="0" y="0" text-anchor="middle" font-size="9.15" fill="#262626">Distribution</text>
</g>
<g>
<rect x="207.80" y="142.70" width="125.20" height="106.60" fill="#EAEAF2"/>
<line x1="213.50" y1="142.70" x2="213.50" y2="249.30" stroke="#fff" stroke-width="0.75"/>
<line x1="251.43" y1="142.70" x2="251.43" y2="249.30" stroke="#fff" stroke-width="0.75"/>
<line x1="289.37" y1="142.70" x2="289.37" y2="249.30" stroke="#fff" stroke-width="0.75"/>
<line x1="327.30" y1="142.70" x2="327.30" y2="249.30" stroke="#fff" stroke-width="0.75"/>
<line x1="207.80" y1="249.30" x2="333.00" y2="249.30" stroke="#fff" stroke-width="0.75"/>
<line x1="207.80" y1="227.34" x2="333.00" y2="227.34" stroke="#fff" stroke-width="0.75"/>
<line x1="207.80" y1="205.38" x2="333.00" y2="205.38" stroke="#fff" stroke-width="0.75"/>
<line x1="207.80" y1="183.42" x2="333.00" y2="183.42" stroke="#fff" stroke-width="0.75"/>
<line x1="207.80" y1="161.45" x2="333.00" y2="161.45" stroke="#fff" stroke-width="0.75"/>
<rect x="213.50" y="147.05" width="7.11" height="102.25" fill="#C44E52" fill-opacity="0.4" stroke="#fff" stroke-opacity="0.4" stroke-width="0.75"/>
<rect x="249.06" y="147.05" width="7.11" height="102.25" fill="#C44E52" fill-opacity="0.4" stroke="#fff" stroke-opacity="0.4" stroke-width="0.75"/>
<rect x="284.62" y="147.05" width="7.11" height="102.25" fill="#C44E52" fill-opacity="0.4" stroke="#fff" stroke-opacity="0.4" stroke-width="0.75"/>
<rect x="320.19" y="151.88" width="7.11" height="97.42" fill="#C44E52" fill-opacity="0.4" stroke="#fff" stroke-opacity="0.4" stroke-width="0.75"/>
<text transform="translate(213.50,262.50) scale(1,1.06)" text-anchor="middle" font-size="8.2" fill="#262626">10</text>
<text transform="translate(251.43,262.50) scale(1,1.06)" text-anchor="middle" font-size="8.2" fill="#262626">20</text>
<text transform="translate(289.37,262.50) scale(1,1.06)" text-anchor="middle" font-size="8.2" fill="#262626">30</text>
<text transform="translate(327.30,262.50) scale(1,1.06)" text-anchor="middle" font-size="8.2" fill="#262626">40</text>
<text transform="translate(200.40,252.40) scale(1,1.06)" text-anchor="end" font-size="8.2" fill="#262626">0</text>
<text transform="translate(200.40,230.44) scale(1,1.06)" text-anchor="end" font-size="8.2" fill="#262626">500</text>
<text transform="translate(200.40,208.48) scale(1,1.06)" text-anchor="end" font-size="8.2" fill="#262626">1000</text>
<text transform="translate(200.40,186.52) scale(1,1.06)" text-anchor="end" font-size="8.2" fill="#262626">1500</text>
<text transform="translate(200.40,164.55) scale(1,1.06)" text-anchor="end" font-size="8.2" fill="#262626">2000</text>
<text transform="translate(270.40,274.30) scale(1,1.06)" text-anchor="middle" font-size="9.15" fill="#262626">Fracture spacing,m</text>
<text transform="translate(177.26,196.40) rotate(-90)" x="0" y="0" text-anchor="middle" font-size="9.15" fill="#262626">Distribution</text>
</g>
<g>
<rect x="377.50" y="142.70" width="125.20" height="106.60" fill="#EAEAF2"/>
<line x1="382.50" y1="142.70" x2="382.50" y2="249.30" stroke="#fff" stroke-width="0.75"/>
<line x1="411.12" y1="142.70" x2="411.12" y2="249.30" stroke="#fff" stroke-width="0.75"/>
<line x1="439.75" y1="142.70" x2="439.75" y2="249.30" stroke="#fff" stroke-width="0.75"/>
<line x1="468.38" y1="142.70" x2="468.38" y2="249.30" stroke="#fff" stroke-width="0.75"/>
<line x1="497.00" y1="142.70" x2="497.00" y2="249.30" stroke="#fff" stroke-width="0.75"/>
<line x1="377.50" y1="249.30" x2="502.70" y2="249.30" stroke="#fff" stroke-width="0.75"/>
<line x1="377.50" y1="223.77" x2="502.70" y2="223.77" stroke="#fff" stroke-width="0.75"/>
<line x1="377.50" y1="198.25" x2="502.70" y2="198.25" stroke="#fff" stroke-width="0.75"/>
<line x1="377.50" y1="172.72" x2="502.70" y2="172.72" stroke="#fff" stroke-width="0.75"/>
<line x1="377.50" y1="147.19" x2="502.70" y2="147.19" stroke="#fff" stroke-width="0.75"/>
<rect x="382.80" y="146.81" width="2.28" height="102.49" fill="#C44E52" fill-opacity="0.4" stroke="#fff" stroke-opacity="0.4" stroke-width="0.75"/>
<rect x="385.08" y="224.11" width="2.28" height="25.19" fill="#C44E52" fill-opacity="0.4" stroke="#fff" stroke-opacity="0.4" stroke-width="0.75"/>
<rect x="387.35" y="235.23" width="2.28" height="14.07" fill="#C44E52" fill-opacity="0.4" stroke="#fff" stroke-opacity="0.4" stroke-width="0.75"/>
<rect x="389.63" y="239.80" width="2.28" height="9.50" fill="#C44E52" fill-opacity="0.4" stroke="#fff" stroke-opacity="0.4" stroke-width="0.75"/>
<rect x="391.90" y="240.75" width="2.28" height="8.55" fill="#C44E52" fill-opacity="0.4" stroke="#fff" stroke-opacity="0.4" stroke-width="0.75"/>
<rect x="394.18" y="242.66" width="2.28" height="6.64" fill="#C44E52" fill-opacity="0.4" stroke="#fff" stroke-opacity="0.4" stroke-width="0.75"/>
<rect x="396.46" y="243.58" width="2.28" height="5.72" fill="#C44E52" fill-opacity="0.4" stroke="#fff" stroke-opacity="0.4" stroke-width="0.75"/>
<rect x="398.73" y="244.19" width="2.28" height="5.11" fill="#C44E52" fill-opacity="0.4" stroke="#fff" stroke-opacity="0.4" stroke-width="0.75"/>
<rect x="401.01" y="244.60" width="2.28" height="4.70" fill="#C44E52" fill-opacity="0.4" stroke="#fff" stroke-opacity="0.4" stroke-width="0.75"/>
<rect x="403.28" y="245.04" width="2.28" height="4.26" fill="#C44E52" fill-opacity="0.4" stroke="#fff" stroke-opacity="0.4" stroke-width="0.75"/>
<rect x="405.56" y="245.34" width="2.28" height="3.96" fill="#C44E52" fill-opacity="0.4" stroke="#fff" stroke-opacity="0.4" stroke-width="0.75"/>
<rect x="407.84" y="245.52" width="2.28" height="3.78" fill="#C44E52" fill-opacity="0.4" stroke="#fff" stroke-opacity="0.4" stroke-width="0.75"/>
<rect x="410.11" y="245.68" width="2.28" height="3.62" fill="#C44E52" fill-opacity="0.4" stroke="#fff" stroke-opacity="0.4" stroke-width="0.75"/>
<rect x="412.39" y="245.84" width="2.28" height="3.46" fill="#C44E52" fill-opacity="0.4" stroke="#fff" stroke-opacity="0.4" stroke-width="0.75"/>
<rect x="414.66" y="246.00" width="2.28" height="3.30" fill="#C44E52" fill-opacity="0.4" stroke="#fff" stroke-opacity="0.4" stroke-width="0.75"/>
<rect x="416.94" y="246.14" width="2.28" height="3.16" fill="#C44E52" fill-opacity="0.4" stroke="#fff" stroke-opacity="0.4" stroke-width="0.75"/>
<rect x="419.22" y="246.28" width="2.28" height="3.02" fill="#C44E52" fill-opacity="0.4" stroke="#fff" stroke-opacity="0.4" stroke-width="0.75"/>
<rect x="421.49" y="246.41" width="2.28" height="2.89" fill="#C44E52" fill-opacity="0.4" stroke="#fff" stroke-opacity="0.4" stroke-width="0.75"/>
<rect x="423.77" y="246.54" width="2.28" height="2.76" fill="#C44E52" fill-opacity="0.4" stroke="#fff" stroke-opacity="0.4" stroke-width="0.75"/>
<rect x="426.04" y="246.66" width="2.28" height="2.64" fill="#C44E52" fill-opacity="0.4" stroke="#fff" stroke-opacity="0.4" stroke-width="0.75"/>
<rect x="428.32" y="246.78" width="2.28" height="2.52" fill="#C44E52" fill-opacity="0.4" stroke="#fff" stroke-opacity="0.4" stroke-width="0.75"/>
<rect x="430.60" y="246.89" width="2.28" height="2.41" fill="#C44E52" fill-opacity="0.4" stroke="#fff" stroke-opacity="0.4" stroke-width="0.75"/>
<rect x="432.87" y="246.99" width="2.28" height="2.31" fill="#C44E52" fill-opacity="0.4" stroke="#fff" stroke-opacity="0.4" stroke-width="0.75"/>
<rect x="435.15" y="247.10" width="2.28" height="2.20" fill="#C44E52" fill-opacity="0.4" stroke="#fff" stroke-opacity="0.4" stroke-width="0.75"/>
<rect x="437.42" y="247.19" width="2.28" height="2.11" fill="#C44E52" fill-opacity="0.4" stroke="#fff" stroke-opacity="0.4" stroke-width="0.75"/>
<rect x="439.70" y="247.29" width="2.28" height="2.01" fill="#C44E52" fill-opacity="0.4" stroke="#fff" stroke-opacity="0.4" stroke-width="0.75"/>
<rect x="441.98" y="247.37" width="2.28" height="1.93" fill="#C44E52" fill-opacity="0.4" stroke="#fff" stroke-opacity="0.4" stroke-width="0.75"/>
<rect x="444.25" y="247.46" width="2.28" height="1.84" fill="#C44E52" fill-opacity="0.4" stroke="#fff" stroke-opacity="0.4" stroke-width="0.75"/>
<rect x="446.53" y="247.54" width="2.28" height="1.76" fill="#C44E52" fill-opacity="0.4" stroke="#fff" stroke-opacity="0.4" stroke-width="0.75"/>
<rect x="448.80" y="247.62" width="2.28" height="1.68" fill="#C44E52" fill-opacity="0.4" stroke="#fff" stroke-opacity="0.4" stroke-width="0.75"/>
<rect x="451.08" y="247.69" width="2.28" height="1.61" fill="#C44E52" fill-opacity="0.4" stroke="#fff" stroke-opacity="0.4" stroke-width="0.75"/>
<rect x="453.36" y="247.76" width="2.28" height="1.54" fill="#C44E52" fill-opacity="0.4" stroke="#fff" stroke-opacity="0.4" stroke-width="0.75"/>
<rect x="455.63" y="247.83" width="2.28" height="1.47" fill="#C44E52" fill-opacity="0.4" stroke="#fff" stroke-opacity="0.4" stroke-width="0.75"/>
<rect x="457.91" y="247.89" width="2.28" height="1.41" fill="#C44E52" fill-opacity="0.4" stroke="#fff" stroke-opacity="0.4" stroke-width="0.75"/>
<rect x="460.18" y="247.96" width="2.28" height="1.34" fill="#C44E52" fill-opacity="0.4" stroke="#fff" stroke-opacity="0.4" stroke-width="0.75"/>
<rect x="462.46" y="248.02" width="2.28" height="1.28" fill="#C44E52" fill-opacity="0.4" stroke="#fff" stroke-opacity="0.4" stroke-width="0.75"/>
<rect x="464.74" y="248.07" width="2.28" height="1.23" fill="#C44E52" fill-opacity="0.4" stroke="#fff" stroke-opacity="0.4" stroke-width="0.75"/>
<rect x="467.01" y="248.13" width="2.28" height="1.17" fill="#C44E52" fill-opacity="0.4" stroke="#fff" stroke-opacity="0.4" stroke-width="0.75"/>
<rect x="469.29" y="248.18" width="2.28" height="1.12" fill="#C44E52" fill-opacity="0.4" stroke="#fff" stroke-opacity="0.4" stroke-width="0.75"/>
<rect x="471.56" y="248.23" width="2.28" height="1.07" fill="#C44E52" fill-opacity="0.4" stroke="#fff" stroke-opacity="0.4" stroke-width="0.75"/>
<rect x="473.84" y="248.27" width="2.28" height="1.03" fill="#C44E52" fill-opacity="0.4" stroke="#fff" stroke-opacity="0.4" stroke-width="0.75"/>
<rect x="476.12" y="248.32" width="2.28" height="0.98" fill="#C44E52" fill-opacity="0.4" stroke="#fff" stroke-opacity="0.4" stroke-width="0.75"/>
<rect x="478.39" y="248.36" width="2.28" height="0.94" fill="#C44E52" fill-opacity="0.4" stroke="#fff" stroke-opacity="0.4" stroke-width="0.75"/>
<rect x="480.67" y="248.40" width="2.28" height="0.90" fill="#C44E52" fill-opacity="0.4" stroke="#fff" stroke-opacity="0.4" stroke-width="0.75"/>
<rect x="482.94" y="248.44" width="2.28" height="0.86" fill="#C44E52" fill-opacity="0.4" stroke="#fff" stroke-opacity="0.4" stroke-width="0.75"/>
<rect x="485.22" y="248.48" width="2.28" height="0.82" fill="#C44E52" fill-opacity="0.4" stroke="#fff" stroke-opacity="0.4" stroke-width="0.75"/>
<rect x="487.50" y="248.52" width="2.28" height="0.78" fill="#C44E52" fill-opacity="0.4" stroke="#fff" stroke-opacity="0.4" stroke-width="0.75"/>
<rect x="489.77" y="248.55" width="2.28" height="0.75" fill="#C44E52" fill-opacity="0.4" stroke="#fff" stroke-opacity="0.4" stroke-width="0.75"/>
<rect x="492.05" y="248.58" width="2.28" height="0.72" fill="#C44E52" fill-opacity="0.4" stroke="#fff" stroke-opacity="0.4" stroke-width="0.75"/>
<rect x="494.32" y="248.62" width="2.28" height="0.68" fill="#C44E52" fill-opacity="0.4" stroke="#fff" stroke-opacity="0.4" stroke-width="0.75"/>
<text transform="translate(382.50,262.50) scale(1,1.06)" text-anchor="middle" font-size="8.2" fill="#262626">0</text>
<text transform="translate(411.12,262.50) scale(1,1.06)" text-anchor="middle" font-size="8.2" fill="#262626">2500</text>
<text transform="translate(439.75,262.50) scale(1,1.06)" text-anchor="middle" font-size="8.2" fill="#262626">5000</text>
<text transform="translate(468.38,262.50) scale(1,1.06)" text-anchor="middle" font-size="8.2" fill="#262626">7500</text>
<text transform="translate(497.00,262.50) scale(1,1.06)" text-anchor="middle" font-size="8.2" fill="#262626">10000</text>
<text transform="translate(370.10,252.40) scale(1,1.06)" text-anchor="end" font-size="8.2" fill="#262626">0</text>
<text transform="translate(370.10,226.87) scale(1,1.06)" text-anchor="end" font-size="8.2" fill="#262626">1000</text>
<text transform="translate(370.10,201.35) scale(1,1.06)" text-anchor="end" font-size="8.2" fill="#262626">2000</text>
<text transform="translate(370.10,175.82) scale(1,1.06)" text-anchor="end" font-size="8.2" fill="#262626">3000</text>
<text transform="translate(370.10,150.29) scale(1,1.06)" text-anchor="end" font-size="8.2" fill="#262626">4000</text>
<text transform="translate(440.10,274.30) scale(1,1.06)" text-anchor="middle" font-size="9.15" fill="#262626">Fracture permeability,mD</text>
<text transform="translate(346.96,196.40) rotate(-90)" x="0" y="0" text-anchor="middle" font-size="9.15" fill="#262626">Distribution</text>
</g>
<g>
<rect x="546.80" y="142.70" width="125.20" height="106.60" fill="#EAEAF2"/>
<line x1="563.88" y1="142.70" x2="563.88" y2="249.30" stroke="#fff" stroke-width="0.75"/>
<line x1="589.49" y1="142.70" x2="589.49" y2="249.30" stroke="#fff" stroke-width="0.75"/>
<line x1="615.09" y1="142.70" x2="615.09" y2="249.30" stroke="#fff" stroke-width="0.75"/>
<line x1="640.69" y1="142.70" x2="640.69" y2="249.30" stroke="#fff" stroke-width="0.75"/>
<line x1="666.30" y1="142.70" x2="666.30" y2="249.30" stroke="#fff" stroke-width="0.75"/>
<line x1="546.80" y1="249.30" x2="672.00" y2="249.30" stroke="#fff" stroke-width="0.75"/>
<line x1="546.80" y1="223.45" x2="672.00" y2="223.45" stroke="#fff" stroke-width="0.75"/>
<line x1="546.80" y1="197.60" x2="672.00" y2="197.60" stroke="#fff" stroke-width="0.75"/>
<line x1="546.80" y1="171.75" x2="672.00" y2="171.75" stroke="#fff" stroke-width="0.75"/>
<line x1="546.80" y1="145.91" x2="672.00" y2="145.91" stroke="#fff" stroke-width="0.75"/>
<rect x="552.66" y="230.59" width="2.28" height="18.71" fill="#C44E52" fill-opacity="0.4" stroke="#fff" stroke-opacity="0.4" stroke-width="0.75"/>
<rect x="565.96" y="212.44" width="2.28" height="36.86" fill="#C44E52" fill-opacity="0.4" stroke="#fff" stroke-opacity="0.4" stroke-width="0.75"/>
<rect x="579.26" y="192.79" width="2.28" height="56.51" fill="#C44E52" fill-opacity="0.4" stroke="#fff" stroke-opacity="0.4" stroke-width="0.75"/>
<rect x="595.16" y="171.24" width="2.28" height="78.06" fill="#C44E52" fill-opacity="0.4" stroke="#fff" stroke-opacity="0.4" stroke-width="0.75"/>
<rect x="608.56" y="147.77" width="2.28" height="101.53" fill="#C44E52" fill-opacity="0.4" stroke="#fff" stroke-opacity="0.4" stroke-width="0.75"/>
<rect x="621.96" y="175.27" width="2.28" height="74.03" fill="#C44E52" fill-opacity="0.4" stroke="#fff" stroke-opacity="0.4" stroke-width="0.75"/>
<rect x="637.66" y="191.61" width="2.28" height="57.69" fill="#C44E52" fill-opacity="0.4" stroke="#fff" stroke-opacity="0.4" stroke-width="0.75"/>
<rect x="650.86" y="211.77" width="2.28" height="37.53" fill="#C44E52" fill-opacity="0.4" stroke="#fff" stroke-opacity="0.4" stroke-width="0.75"/>
<rect x="664.26" y="229.40" width="2.28" height="19.90" fill="#C44E52" fill-opacity="0.4" stroke="#fff" stroke-opacity="0.4" stroke-width="0.75"/>
<text transform="translate(563.88,262.50) scale(1,1.06)" text-anchor="middle" font-size="8.2" fill="#262626">0.2</text>
<text transform="translate(589.49,262.50) scale(1,1.06)" text-anchor="middle" font-size="8.2" fill="#262626">0.4</text>
<text transform="translate(615.09,262.50) scale(1,1.06)" text-anchor="middle" font-size="8.2" fill="#262626">0.6</text>
<text transform="translate(640.69,262.50) scale(1,1.06)" text-anchor="middle" font-size="8.2" fill="#262626">0.8</text>
<text transform="translate(666.30,262.50) scale(1,1.06)" text-anchor="middle" font-size="8.2" fill="#262626">1.0</text>
<text transform="translate(539.40,252.40) scale(1,1.06)" text-anchor="end" font-size="8.2" fill="#262626">0</text>
<text transform="translate(539.40,226.55) scale(1,1.06)" text-anchor="end" font-size="8.2" fill="#262626">500</text>
<text transform="translate(539.40,200.70) scale(1,1.06)" text-anchor="end" font-size="8.2" fill="#262626">1000</text>
<text transform="translate(539.40,174.85) scale(1,1.06)" text-anchor="end" font-size="8.2" fill="#262626">1500</text>
<text transform="translate(539.40,149.01) scale(1,1.06)" text-anchor="end" font-size="8.2" fill="#262626">2000</text>
<text transform="translate(609.40,274.30) scale(1,1.06)" text-anchor="middle" font-size="9.15" fill="#262626">Average fracture height/Matrix height</text>
<text transform="translate(516.26,196.40) rotate(-90)" x="0" y="0" text-anchor="middle" font-size="9.15" fill="#262626">Distribution</text>
</g>
</svg>
</body></html>
